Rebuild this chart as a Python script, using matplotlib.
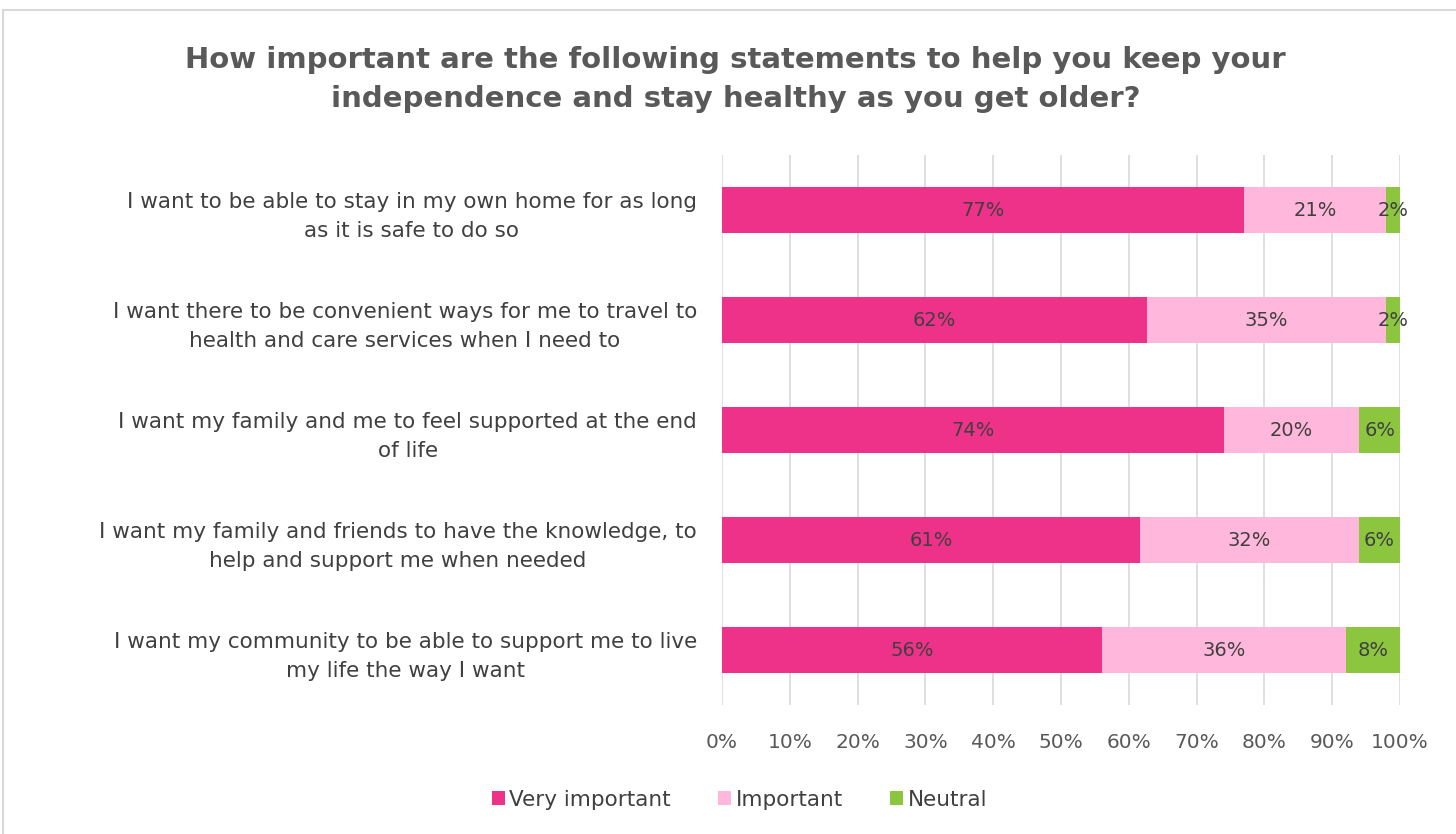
import matplotlib.pyplot as plt
from matplotlib.patches import Rectangle
from matplotlib.ticker import PercentFormatter

statements = [
    "I want to be able to stay in my own home for as long\nas it is safe to do so",
    "I want there to be convenient ways for me to travel to\nhealth and care services when I need to",
    "I want my family and me to feel supported at the end\nof life",
    "I want my family and friends to have the knowledge, to\nhelp and support me when needed",
    "I want my community to be able to support me to live\nmy life the way I want",
]
very_important = [77, 62, 74, 61, 56]
important = [21, 35, 20, 32, 36]
neutral = [2, 2, 6, 6, 8]

series_names = ["Very important", "Important", "Neutral"]
colors = ["#EE3189", "#FFB7DB", "#8CC63E"]
text_col = "#404040"

fig = plt.figure(figsize=(14.56, 8.34), dpi=100)
fig.patches.append(Rectangle((3 / 1456, -0.1), 1.2, 1 - 10 / 834 + 0.1,
                             transform=fig.transFigure, fill=False,
                             edgecolor="#D9D9D9", linewidth=1.5))

ax = fig.add_axes([722 / 1456, 129 / 834, 678 / 1456, 550 / 834])

# 100% stacked: each row normalised to its total
series = [very_important, important, neutral]
totals = [sum(t) for t in zip(*series)]
y = list(range(len(statements)))
left = [0.0] * len(statements)
for vals, name, c in zip(series, series_names, colors):
    widths = [v / t * 100 for v, t in zip(vals, totals)]
    bars = ax.barh(y, widths, left=left, height=0.41, color=c, label=name, zorder=2)
    for b, v in zip(bars, vals):
        ax.text(b.get_x() + b.get_width() / 2, b.get_y() + b.get_height() / 2,
                f"{v}%", ha="center", va="center", fontsize=14, color=text_col, zorder=3)
    left = [l + w for l, w in zip(left, widths)]

ax.set_xlim(0, 100)
ax.set_ylim(len(statements) - 0.5, -0.5)
ax.set_xticks(range(0, 101, 10))
ax.xaxis.set_major_formatter(PercentFormatter(decimals=0))
ax.set_yticks(y)
ax.set_yticklabels(statements, multialignment="center", linespacing=1.55, fontsize=15.5)
ax.tick_params(axis="x", length=0, labelsize=14.5, labelcolor="#595959", pad=20)
ax.tick_params(axis="y", length=0, labelcolor=text_col, pad=18)
ax.grid(axis="x", color="#D9D9D9", linewidth=1.2, zorder=0)
for s in ax.spines.values():
    s.set_visible(False)

fig.text(0.505, 0.905,
         "How important are the following statements to help you keep your\nindependence and stay healthy as you get older?",
         ha="center", va="center", fontsize=21, fontweight="bold", color="#595959",
         linespacing=1.5)

fig.legend(loc="center", bbox_to_anchor=(0.508, 0.041), ncol=3, frameon=False,
           fontsize=15.5, labelcolor=text_col, handlelength=0.6, handleheight=0.6,
           handletextpad=0.2, columnspacing=2.2)

fig.savefig("out.png", dpi=100)
